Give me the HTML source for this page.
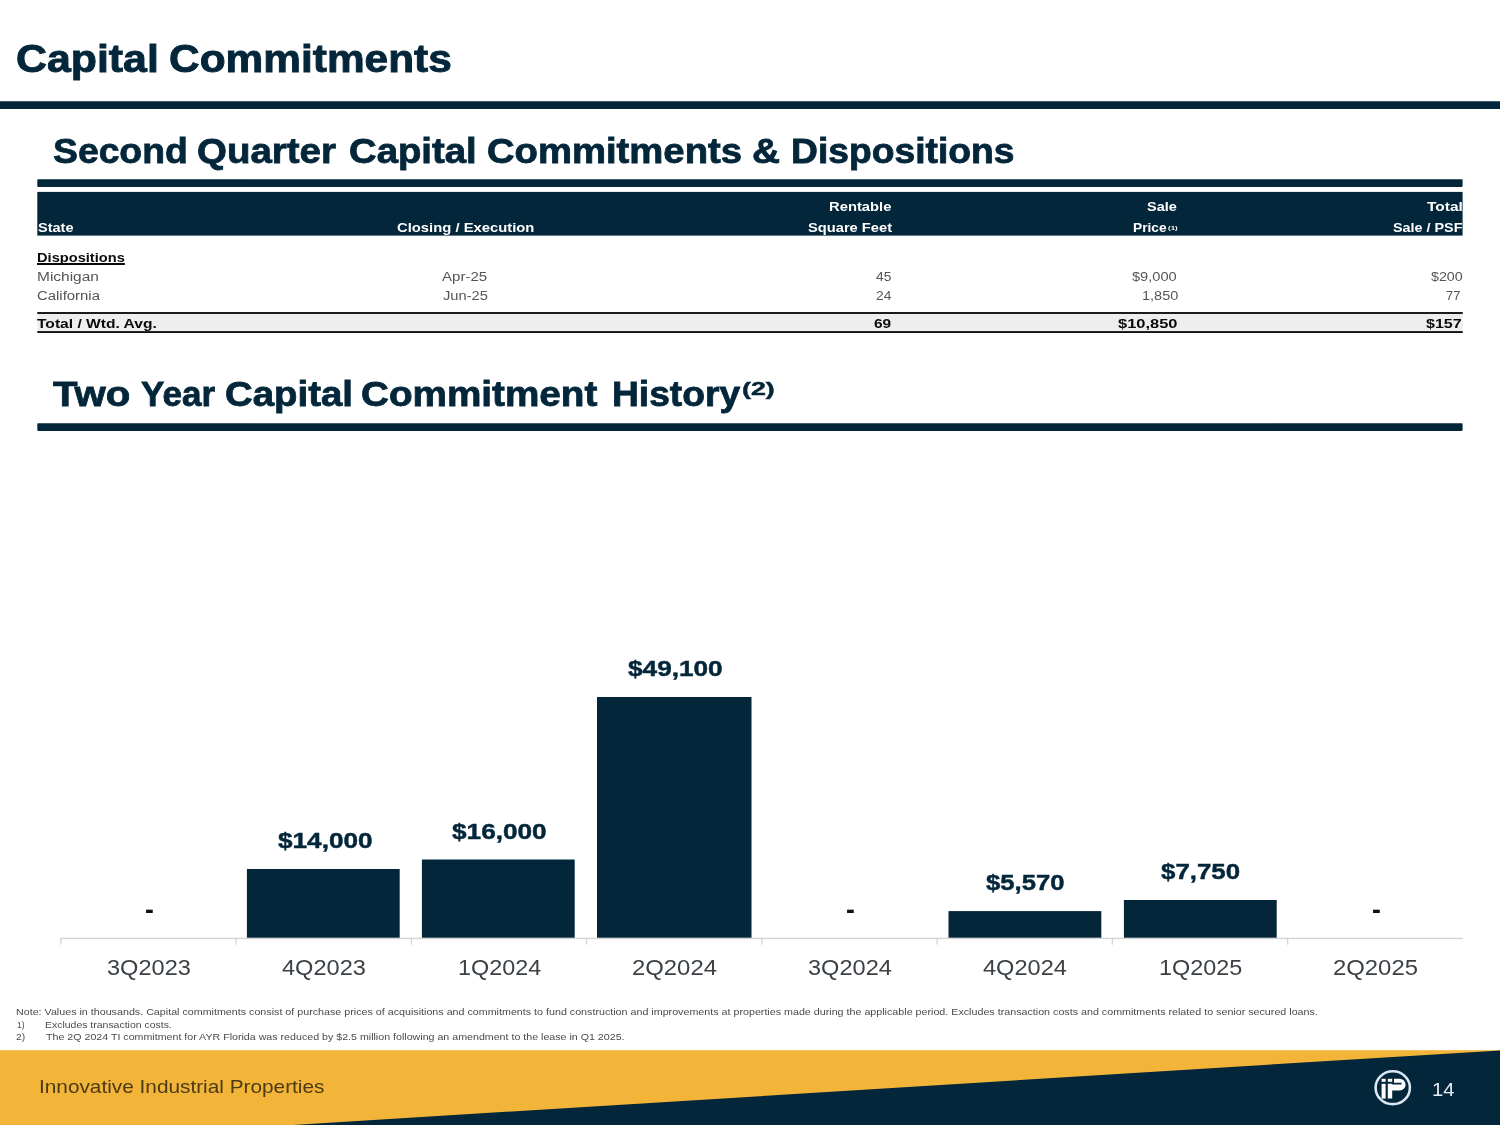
<!DOCTYPE html>
<html lang="en"><head><meta charset="utf-8"><title>Capital Commitments</title>
<style>
html,body{margin:0;padding:0;background:#fff}
body{width:1500px;height:1125px;position:relative;overflow:hidden;font-family:"Liberation Sans", sans-serif}
h1,h2,div{margin:0;padding:0;font-size:inherit;font-weight:inherit}
.t{position:absolute;display:block;white-space:nowrap;line-height:normal;transform-origin:0 0}
.r{position:absolute}
</style></head><body>
<svg class="r" style="left:0;top:0" width="1500" height="1125" viewBox="0 0 1500 1125">
<rect x="-4.00" y="101.20" width="1512.00" height="7.90" rx="3" fill="#03263a"/>
<rect x="37.30" y="179.30" width="1425.30" height="7.60" rx="0.8" fill="#03263a"/>
<rect x="37.30" y="191.90" width="1425.30" height="43.70" fill="#03263a"/>
<rect x="37.30" y="313.00" width="1425.40" height="19.00" fill="#eeeeee"/>
<rect x="37.30" y="312.05" width="1425.40" height="1.90" fill="#111111"/>
<rect x="37.30" y="331.10" width="1425.40" height="1.90" fill="#111111"/>
<rect x="37.30" y="423.20" width="1425.30" height="7.70" rx="0.8" fill="#03263a"/>
<rect x="60.80" y="937.75" width="1402.10" height="1.40" fill="#d4d4d4"/>
<rect x="60.15" y="937.75" width="1.30" height="6.90" fill="#d4d4d4"/>
<rect x="235.41" y="937.75" width="1.30" height="6.90" fill="#d4d4d4"/>
<rect x="410.68" y="937.75" width="1.30" height="6.90" fill="#d4d4d4"/>
<rect x="585.94" y="937.75" width="1.30" height="6.90" fill="#d4d4d4"/>
<rect x="761.20" y="937.75" width="1.30" height="6.90" fill="#d4d4d4"/>
<rect x="936.46" y="937.75" width="1.30" height="6.90" fill="#d4d4d4"/>
<rect x="1111.72" y="937.75" width="1.30" height="6.90" fill="#d4d4d4"/>
<rect x="1286.99" y="937.75" width="1.30" height="6.90" fill="#d4d4d4"/>
<rect x="246.90" y="869.00" width="152.80" height="68.70" fill="#03263a"/>
<rect x="421.90" y="859.50" width="152.80" height="78.20" fill="#03263a"/>
<rect x="597.00" y="697.00" width="154.50" height="240.70" fill="#03263a"/>
<rect x="948.50" y="911.10" width="152.80" height="26.60" fill="#03263a"/>
<rect x="1123.90" y="900.00" width="152.80" height="37.70" fill="#03263a"/>
<rect x="0.00" y="1050.20" width="1500.00" height="75.00" fill="#f3b43a"/>
<polygon points="293,1125 1500,1050.4 1500,1125" fill="#03263a"/>
<g transform="translate(1372.75 1067.7)">
<ellipse cx="20" cy="20" rx="17.15" ry="16.45" fill="none" stroke="#d9e8f2" stroke-width="2.6"/>
<g fill="#ffffff">
<rect x="8.85" y="11.1" width="4" height="3"/>
<rect x="8.85" y="16.1" width="4" height="14.8"/>
<rect x="15.05" y="11.1" width="4.4" height="3"/>
<path d="M21.25 11.1 H26.95 A5.9 5.9 0 0 1 26.95 22.9 H19.45 V30.9 H15.05 V16.1 H19.45 V16.9 H28.85 V15.1 H21.25 Z"/>
</g></g>
</svg>
<h1>
<span class="t" style="left:16.21px;top:37.00px;font-size:39.2px;font-weight:700;color:#03263a;transform:scaleX(1.0934);-webkit-text-stroke:0.9px #03263a;">Capital</span>
<span class="t" style="left:169.22px;top:37.00px;font-size:39.2px;font-weight:700;color:#03263a;transform:scaleX(1.0825);-webkit-text-stroke:0.9px #03263a;">Commitments</span>
</h1>
<h2>
<span class="t" style="left:52.83px;top:131.00px;font-size:35px;font-weight:700;color:#03263a;transform:scaleX(1.0658);-webkit-text-stroke:0.8px #03263a;">Second</span>
<span class="t" style="left:197.20px;top:131.00px;font-size:35px;font-weight:700;color:#03263a;transform:scaleX(1.0985);-webkit-text-stroke:0.8px #03263a;">Quarter</span>
<span class="t" style="left:348.71px;top:131.00px;font-size:35px;font-weight:700;color:#03263a;transform:scaleX(1.0942);-webkit-text-stroke:0.8px #03263a;">Capital</span>
<span class="t" style="left:486.51px;top:131.00px;font-size:35px;font-weight:700;color:#03263a;transform:scaleX(1.0927);-webkit-text-stroke:0.8px #03263a;">Commitments</span>
<span class="t" style="left:752.39px;top:131.00px;font-size:35px;font-weight:700;color:#03263a;transform:scaleX(1.1083);-webkit-text-stroke:0.8px #03263a;">&amp;</span>
<span class="t" style="left:790.77px;top:131.00px;font-size:35px;font-weight:700;color:#03263a;transform:scaleX(1.0638);-webkit-text-stroke:0.8px #03263a;">Dispositions</span>
</h2>
<h2>
<span class="t" style="left:53.20px;top:374.00px;font-size:35.3px;font-weight:700;color:#03263a;transform:scaleX(1.1381);-webkit-text-stroke:0.8px #03263a;">Two</span>
<span class="t" style="left:141.30px;top:374.00px;font-size:35.3px;font-weight:700;color:#03263a;transform:scaleX(0.9926);-webkit-text-stroke:0.8px #03263a;">Year</span>
<span class="t" style="left:225.11px;top:374.00px;font-size:35.3px;font-weight:700;color:#03263a;transform:scaleX(1.0873);-webkit-text-stroke:0.8px #03263a;">Capital</span>
<span class="t" style="left:361.00px;top:374.00px;font-size:35.3px;font-weight:700;color:#03263a;transform:scaleX(1.0956);-webkit-text-stroke:0.8px #03263a;">Commitment</span>
<span class="t" style="left:611.69px;top:374.00px;font-size:35.3px;font-weight:700;color:#03263a;transform:scaleX(1.0535);-webkit-text-stroke:0.8px #03263a;">History</span>
<span class="t" style="left:741.60px;top:378.00px;font-size:19px;font-weight:700;color:#03263a;transform:scaleX(1.4108);-webkit-text-stroke:0.45px #03263a;">(2)</span>
</h2>
<div class="thead">
<span class="t" style="left:37.90px;top:221.00px;font-size:12.6px;font-weight:700;color:#ffffff;transform:scaleX(1.1529);">State</span>
<span class="t" style="left:397.00px;top:221.00px;font-size:12.6px;font-weight:700;color:#ffffff;transform:scaleX(1.1759);">Closing / Execution</span>
<span class="t" style="left:828.60px;top:200.00px;font-size:12.6px;font-weight:700;color:#ffffff;transform:scaleX(1.1733);">Rentable</span>
<span class="t" style="left:808.00px;top:221.00px;font-size:12.6px;font-weight:700;color:#ffffff;transform:scaleX(1.1661);">Square Feet</span>
<span class="t" style="left:1147.30px;top:200.00px;font-size:12.6px;font-weight:700;color:#ffffff;transform:scaleX(1.1466);">Sale</span>
<span class="t" style="left:1133.30px;top:221.00px;font-size:12.6px;font-weight:700;color:#ffffff;transform:scaleX(1.0875);">Price</span>
<span class="t" style="left:1167.60px;top:225.00px;font-size:5.4px;font-weight:700;color:#ffffff;transform:scaleX(1.4721);">(1)</span>
<span class="t" style="left:1427.30px;top:200.00px;font-size:12.6px;font-weight:700;color:#ffffff;transform:scaleX(1.2287);">Total</span>
<span class="t" style="left:1392.70px;top:221.00px;font-size:12.6px;font-weight:700;color:#ffffff;transform:scaleX(1.1405);">Sale / PSF</span>
</div>
<div class="tbody">
<span class="t" style="left:37.30px;top:250.00px;font-size:12.8px;font-weight:700;color:#0a0a0a;transform:scaleX(1.1439);text-decoration:underline;text-underline-offset:1px;text-decoration-thickness:1.5px;text-decoration-skip-ink:none;">Dispositions</span>
<span class="t" style="left:36.66px;top:270.00px;font-size:12.5px;font-weight:400;color:#555555;transform:scaleX(1.2369);">Michigan</span>
<span class="t" style="left:442.40px;top:270.00px;font-size:12.5px;font-weight:400;color:#555555;transform:scaleX(1.2032);">Apr-25</span>
<span class="t" style="left:875.60px;top:270.00px;font-size:12.5px;font-weight:400;color:#555555;transform:scaleX(1.1038);">45</span>
<span class="t" style="left:1132.00px;top:270.00px;font-size:12.5px;font-weight:400;color:#555555;transform:scaleX(1.1677);">$9,000</span>
<span class="t" style="left:1430.70px;top:270.00px;font-size:12.5px;font-weight:400;color:#555555;transform:scaleX(1.1416);">$200</span>
<span class="t" style="left:37.00px;top:289.00px;font-size:12.5px;font-weight:400;color:#555555;transform:scaleX(1.1921);">California</span>
<span class="t" style="left:442.60px;top:289.00px;font-size:12.5px;font-weight:400;color:#555555;transform:scaleX(1.1759);">Jun-25</span>
<span class="t" style="left:875.60px;top:289.00px;font-size:12.5px;font-weight:400;color:#555555;transform:scaleX(1.1038);">24</span>
<span class="t" style="left:1142.00px;top:289.00px;font-size:12.5px;font-weight:400;color:#555555;transform:scaleX(1.1619);">1,850</span>
<span class="t" style="left:1446.40px;top:289.00px;font-size:12.5px;font-weight:400;color:#555555;transform:scaleX(1.0249);">77</span>
<span class="t" style="left:37.30px;top:316.00px;font-size:12.8px;font-weight:700;color:#0a0a0a;transform:scaleX(1.2183);">Total / Wtd. Avg.</span>
<span class="t" style="left:874.00px;top:316.00px;font-size:12.8px;font-weight:700;color:#0a0a0a;transform:scaleX(1.2042);">69</span>
<span class="t" style="left:1118.00px;top:316.00px;font-size:12.8px;font-weight:700;color:#0a0a0a;transform:scaleX(1.2852);">$10,850</span>
<span class="t" style="left:1426.00px;top:316.00px;font-size:12.8px;font-weight:700;color:#0a0a0a;transform:scaleX(1.2557);">$157</span>
</div>
<div class="chart">
<span class="t" style="left:106.98px;top:955.00px;font-size:22.6px;font-weight:400;color:#3c4146;transform:scaleX(1.0434);">3Q2023</span>
<span class="t" style="left:144.70px;top:895.00px;font-size:27px;font-weight:700;color:#111;transform:scaleX(0.9857);">-</span>
<span class="t" style="left:282.24px;top:955.00px;font-size:22.6px;font-weight:400;color:#3c4146;transform:scaleX(1.0434);">4Q2023</span>
<span class="t" style="left:277.70px;top:828.00px;font-size:22px;font-weight:700;color:#03263a;transform:scaleX(1.1893);-webkit-text-stroke:0.45px #03263a;">$14,000</span>
<span class="t" style="left:457.72px;top:955.00px;font-size:22.6px;font-weight:400;color:#3c4146;transform:scaleX(1.0351);">1Q2024</span>
<span class="t" style="left:452.30px;top:819.00px;font-size:22px;font-weight:700;color:#03263a;transform:scaleX(1.1906);-webkit-text-stroke:0.45px #03263a;">$16,000</span>
<span class="t" style="left:631.71px;top:955.00px;font-size:22.6px;font-weight:400;color:#3c4146;transform:scaleX(1.0566);">2Q2024</span>
<span class="t" style="left:628.30px;top:656.00px;font-size:22px;font-weight:700;color:#03263a;transform:scaleX(1.1906);-webkit-text-stroke:0.45px #03263a;">$49,100</span>
<span class="t" style="left:808.03px;top:955.00px;font-size:22.6px;font-weight:400;color:#3c4146;transform:scaleX(1.0434);">3Q2024</span>
<span class="t" style="left:845.75px;top:895.00px;font-size:27px;font-weight:700;color:#111;transform:scaleX(0.9857);">-</span>
<span class="t" style="left:983.29px;top:955.00px;font-size:22.6px;font-weight:400;color:#3c4146;transform:scaleX(1.0434);">4Q2024</span>
<span class="t" style="left:986.20px;top:870.00px;font-size:22px;font-weight:700;color:#03263a;transform:scaleX(1.1662);-webkit-text-stroke:0.45px #03263a;">$5,570</span>
<span class="t" style="left:1158.77px;top:955.00px;font-size:22.6px;font-weight:400;color:#3c4146;transform:scaleX(1.0351);">1Q2025</span>
<span class="t" style="left:1160.90px;top:859.00px;font-size:22px;font-weight:700;color:#03263a;transform:scaleX(1.1752);-webkit-text-stroke:0.45px #03263a;">$7,750</span>
<span class="t" style="left:1332.76px;top:955.00px;font-size:22.6px;font-weight:400;color:#3c4146;transform:scaleX(1.0566);">2Q2025</span>
<span class="t" style="left:1371.53px;top:895.00px;font-size:27px;font-weight:700;color:#111;transform:scaleX(0.9857);">-</span>
</div>
<div class="notes">
<span class="t" style="left:15.60px;top:1006.00px;font-size:9.8px;font-weight:400;color:#4a4a4a;transform:scaleX(1.0928);">Note: Values in thousands. Capital commitments consist of purchase prices of acquisitions and commitments to fund construction and improvements at properties made during the applicable period. Excludes transaction costs and commitments related to senior secured loans.</span>
<span class="t" style="left:17.30px;top:1019.00px;font-size:9.8px;font-weight:400;color:#4a4a4a;transform:scaleX(0.8759);">1)</span>
<span class="t" style="left:45.30px;top:1019.00px;font-size:9.8px;font-weight:400;color:#4a4a4a;transform:scaleX(1.0679);">Excludes transaction costs.</span>
<span class="t" style="left:15.80px;top:1031.00px;font-size:9.8px;font-weight:400;color:#4a4a4a;transform:scaleX(1.0534);">2)</span>
<span class="t" style="left:45.50px;top:1031.00px;font-size:9.8px;font-weight:400;color:#4a4a4a;transform:scaleX(1.0870);">The 2Q 2024 TI commitment for AYR Florida was reduced by $2.5 million following an amendment to the lease in Q1 2025.</span>
</div>
<div class="footer">
<span class="t" style="left:38.88px;top:1076.00px;font-size:18.5px;font-weight:400;color:#4a3b14;transform:scaleX(1.1237);">Innovative Industrial Properties</span>
<span class="t" style="left:1432.24px;top:1079.00px;font-size:19px;font-weight:400;color:#e6eef2;transform:scaleX(1.0648);">14</span>
</div>
</body></html>
